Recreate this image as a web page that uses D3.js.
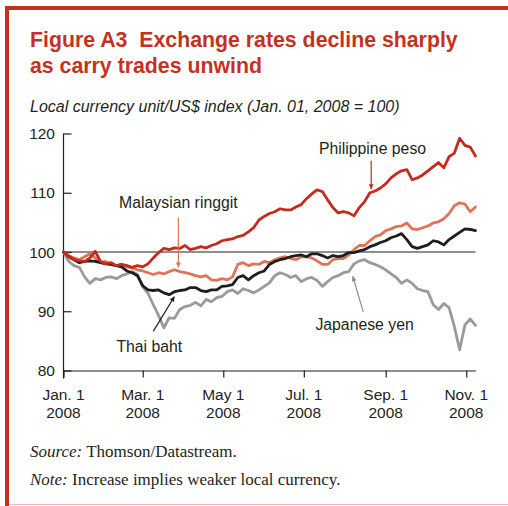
<!DOCTYPE html>
<html>
<head>
<meta charset="utf-8">
<script src="https://cdn.jsdelivr.net/npm/d3@7"></script>
<style>
  html, body { margin: 0; padding: 0; background: #fff; }
  svg { display: block; }
</style>
</head>
<body>
<svg id="chart" width="508" height="506"></svg>
<script>
// Observation dates (2008, month-day)
const obsDates = ["01-01","01-05","01-09","01-13","01-17","01-21","01-25","01-29",
  "02-02","02-06","02-10","02-14","02-18","02-22","02-26","03-01","03-05","03-09",
  "03-13","03-17","03-21","03-25","03-29","04-02","04-06","04-10","04-14","04-18",
  "04-22","04-26","04-30","05-04","05-08","05-12","05-16","05-20","05-24","05-28",
  "06-01","06-05","06-09","06-13","06-17","06-21","06-25","06-29","07-03","07-07",
  "07-11","07-15","07-19","07-23","07-27","07-31","08-04","08-08","08-12","08-16",
  "08-20","08-24","08-28","09-01","09-05","09-09","09-13","09-17","09-21","09-25",
  "09-29","10-03","10-07","10-11","10-15","10-19","10-23","10-27","10-31","11-04","11-08"];

// Local currency per US$, indexed to Jan. 1, 2008 = 100
const philippinePeso = [100.0,99.2,98.7,98.5,98.4,99.0,100.1,98.4,98.0,98.2,97.7,97.9,97.7,97.4,
  97.7,97.5,98.0,99.0,99.9,100.6,100.4,100.7,100.6,101.1,100.4,100.6,100.9,100.7,101.1,101.4,
  101.9,102.1,102.2,102.6,102.8,103.4,104.1,105.4,106.0,106.5,106.8,107.3,107.1,107.1,107.6,
  108.0,109.0,109.8,110.5,110.2,108.8,107.5,106.6,106.8,106.6,106.1,107.5,108.5,110.0,110.3,
  110.8,111.5,112.5,113.2,113.7,113.9,112.2,112.5,113.0,113.7,114.4,115.1,114.2,116.1,116.7,
  119.2,118.0,117.7,116.2];

const malaysianRinggit = [100.0,99.4,99.0,98.7,99.2,99.7,99.0,98.2,98.4,97.9,97.7,97.9,97.5,97.3,
  97.0,96.8,96.5,96.2,96.5,96.3,96.7,97.0,96.7,96.5,96.3,96.0,95.8,96.0,95.3,95.2,95.5,95.3,
  95.8,97.9,98.2,97.7,98.0,97.9,98.4,98.2,98.7,99.0,99.2,98.9,98.7,99.2,99.2,99.0,98.5,97.9,
  97.9,98.7,98.9,98.9,99.5,100.4,101.1,101.1,101.9,102.6,102.9,103.6,103.9,104.3,104.4,104.9,
  103.9,103.8,104.1,104.4,104.9,105.1,105.6,106.5,107.8,108.3,108.1,106.8,107.6];

const thaiBaht = [100.0,99.2,98.7,98.2,98.4,98.5,98.4,98.2,98.0,97.9,97.7,97.5,96.8,96.5,96.0,
  94.3,93.6,93.5,93.6,93.1,92.8,93.3,93.5,93.6,94.0,94.0,93.5,93.3,93.6,93.6,94.2,94.3,94.5,
  95.7,96.0,95.3,96.0,96.5,96.8,97.9,98.4,98.7,98.9,99.2,99.4,99.5,99.2,99.7,99.7,99.4,99.0,
  99.4,99.2,99.4,99.9,99.9,100.2,100.4,100.9,101.2,101.6,101.9,102.4,102.7,103.1,102.1,100.9,
  100.6,100.9,101.2,101.9,101.7,101.2,102.1,102.7,103.3,103.9,103.8,103.6];

const japaneseYen = [100.0,98.4,97.7,97.4,95.8,94.7,95.5,95.3,95.7,95.8,95.5,96.0,96.3,96.7,96.2,
  94.1,93.0,91.1,89.3,87.2,88.9,88.8,90.3,90.8,91.0,91.5,90.9,92.0,91.6,92.3,92.5,93.3,93.6,
  93.0,93.8,93.5,93.1,93.6,94.2,94.8,96.0,96.5,96.2,95.7,96.0,95.0,95.5,95.7,95.2,94.2,95.0,
  95.7,96.0,96.5,96.7,98.0,98.5,98.7,98.2,97.9,97.5,97.0,96.3,95.7,94.7,95.3,94.7,93.8,93.5,
  93.3,91.1,90.3,91.3,90.6,87.4,83.5,87.7,88.7,87.6];

const yTicks = [80, 90, 100, 110, 120];
const xTickDates = ["01-01","03-01","05-01","07-01","09-01","11-01"];
const xTickLabels = ["Jan. 1","Mar. 1","May 1","Jul. 1","Sep. 1","Nov. 1"];
const xTickYear = "2008";

const parse = s => d3.timeParse("%Y-%m-%d")("2008-" + s);
const dates = obsDates.map(parse);

const seriesList = [
  { name: "Japanese yen",      values: japaneseYen,       color: "#9a9a9a" },
  { name: "Malaysian ringgit", values: malaysianRinggit,  color: "#de7556" },
  { name: "Thai baht",         values: thaiBaht,          color: "#1e1e1e" },
  { name: "Philippine peso",   values: philippinePeso,    color: "#c62a1c" }
];

// Callout labels in data coordinates: label anchor, arrow tail and arrow tip
const callouts = [
  { text: "Philippine peso",   color: "#c62a1c", textDate: "08-22", textVal: 116.6,
    fromDate: "08-21", fromVal: 115.4, toDate: "08-21", toVal: 110.6 },
  { text: "Malaysian ringgit", color: "#de7556", textDate: "03-28", textVal: 107.4,
    fromDate: "03-28", fromVal: 105.8, toDate: "03-28", toVal: 97.4 },
  { text: "Thai baht",         color: "#1e1e1e", textDate: "03-06", textVal: 83.2,
    fromDate: "03-09", fromVal: 86.6, toDate: "03-25", toVal: 92.5 },
  { text: "Japanese yen",      color: "#8c8c8c", textDate: "08-16", textVal: 86.8,
    fromDate: "08-15", fromVal: 89.9, toDate: "08-07", toVal: 95.9 }
];

const svg = d3.select("#chart");
const W = 508, H = 506;
const red = "#c4321f";
const ink = "#231f20";

// Frame
svg.append("rect").attr("x", 5).attr("y", 6).attr("width", W - 5).attr("height", 4).attr("fill", red);
svg.append("rect").attr("x", 5).attr("y", 6).attr("width", 4).attr("height", H - 6).attr("fill", red);
svg.append("line").attr("x1", 9).attr("x2", W).attr("y1", 504.5).attr("y2", 504.5)
  .attr("stroke", "#ecbcb4").attr("stroke-width", 1);

const font = "'Liberation Sans', Arial, sans-serif";

// Title
const title = svg.append("text").attr("x", 30).attr("fill", red)
  .attr("font-family", font).attr("font-weight", "bold").attr("font-size", 21.3);
title.append("tspan").attr("x", 30).attr("y", 47).attr("xml:space", "preserve")
  .text("Figure A3\u00a0 Exchange rates decline sharply");
title.append("tspan").attr("x", 30).attr("y", 73).text("as carry trades unwind");

svg.append("text").attr("x", 30).attr("y", 112)
  .attr("font-family", font).attr("font-style", "italic").attr("font-size", 16).attr("fill", ink)
  .text("Local currency unit/US$ index (Jan. 01, 2008 = 100)");

// Scales
const x = d3.scaleTime()
  .domain([parse("01-01"), parse("11-08")])
  .range([63.5, 475.5]);
const y = d3.scaleLinear().domain([80, 120]).range([370.5, 133.5]);

// Y axis (ticks point inward)
const yAxis = svg.append("g").attr("transform", `translate(${x.range()[0]},0)`)
  .call(d3.axisRight(y).tickValues(yTicks).tickSize(8).tickFormat(""));
yAxis.select(".domain").attr("d", `M0,${y(120)}V${y(80) + 8}`);
yAxis.selectAll("line, path").attr("stroke", ink).attr("stroke-width", 1.2);
svg.append("g").selectAll("text").data(yTicks).join("text")
  .attr("x", 55).attr("y", d => y(d)).attr("dy", "0.36em")
  .attr("text-anchor", "end").attr("font-family", font).attr("font-size", 15.5).attr("fill", ink)
  .text(d => d);

// X axis (ticks point down)
const xAxis = svg.append("g").attr("transform", `translate(0,${y(80)})`)
  .call(d3.axisBottom(x).tickValues(xTickDates.map(parse)).tickSize(7).tickSizeOuter(0).tickFormat(""));
xAxis.selectAll("line, path").attr("stroke", ink).attr("stroke-width", 1.2);
const xl = svg.append("g").selectAll("text").data(xTickDates).join("text")
  .attr("text-anchor", "middle").attr("font-family", font).attr("font-size", 15.5).attr("fill", ink);
xl.append("tspan").attr("x", d => x(parse(d))).attr("y", 400).text((d, i) => xTickLabels[i]);
xl.append("tspan").attr("x", d => x(parse(d))).attr("y", 418).text(xTickYear);

// Reference line at 100
svg.append("line").attr("x1", x.range()[0]).attr("x2", x.range()[1])
  .attr("y1", y(100)).attr("y2", y(100)).attr("stroke", ink).attr("stroke-width", 1.2);

// Series lines
const line = d3.line().x((d, i) => x(dates[i])).y(d => y(d)).curve(d3.curveLinear);
svg.append("g").selectAll("path").data(seriesList).join("path")
  .attr("d", d => line(d.values))
  .attr("fill", "none").attr("stroke", d => d.color)
  .attr("stroke-width", 2.8).attr("stroke-linejoin", "round").attr("stroke-linecap", "round");

// Callouts
const defs = svg.append("defs");
callouts.forEach((c, i) => {
  defs.append("marker").attr("id", "arrow" + i)
    .attr("viewBox", "0 0 10 10").attr("refX", 10).attr("refY", 5)
    .attr("markerWidth", 7).attr("markerHeight", 5).attr("markerUnits", "userSpaceOnUse")
    .attr("orient", "auto")
    .append("path").attr("d", "M0,0L10,5L0,10z").attr("fill", c.color);
});
const cg = svg.append("g");
callouts.forEach((c, i) => {
  cg.append("line")
    .attr("x1", x(parse(c.fromDate))).attr("y1", y(c.fromVal))
    .attr("x2", x(parse(c.toDate))).attr("y2", y(c.toVal))
    .attr("stroke", c.color).attr("stroke-width", 1.2)
    .attr("marker-end", `url(#arrow${i})`);
  cg.append("text")
    .attr("x", x(parse(c.textDate))).attr("y", y(c.textVal))
    .attr("text-anchor", "middle").attr("font-family", font).attr("font-size", 15.8).attr("fill", ink)
    .text(c.text);
});

// Source and note
const serif = "'Liberation Serif', 'Times New Roman', serif";
const src = svg.append("text").attr("x", 30).attr("y", 457)
  .attr("font-family", serif).attr("font-size", 17).attr("fill", ink);
src.append("tspan").attr("font-style", "italic").text("Source:");
src.append("tspan").text(" Thomson/Datastream.");
const note = svg.append("text").attr("x", 30).attr("y", 485)
  .attr("font-family", serif).attr("font-size", 17).attr("fill", ink);
note.append("tspan").attr("font-style", "italic").text("Note:");
note.append("tspan").text(" Increase implies weaker local currency.");
</script>
</body>
</html>
